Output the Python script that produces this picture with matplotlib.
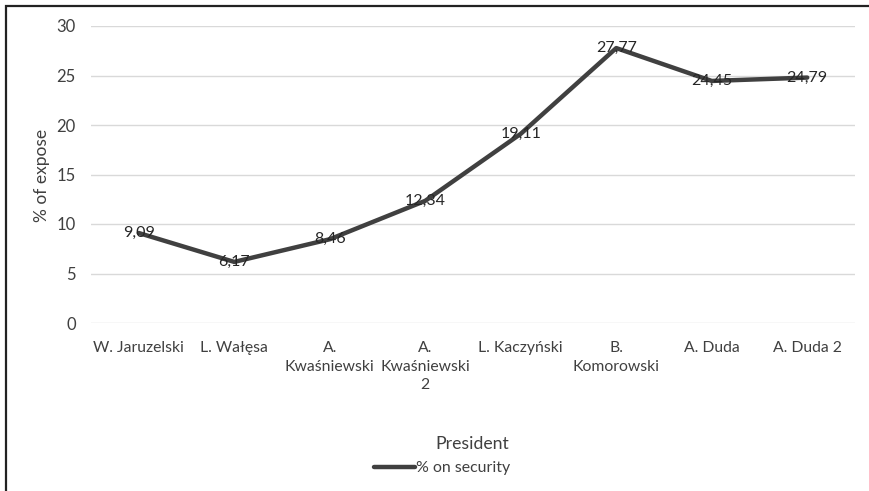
import matplotlib
matplotlib.use("Agg")
import matplotlib.pyplot as plt
from matplotlib.patches import Rectangle

presidents = ["W. Jaruzelski", "L. Wałęsa", "A.\nKwaśniewski", "A.\nKwaśniewski\n2",
              "L. Kaczyński", "B.\nKomorowski", "A. Duda", "A. Duda 2"]
security_share = [9.09, 6.17, 8.46, 12.34, 19.11, 27.77, 24.45, 24.79]
y_ticks = [0, 5, 10, 15, 20, 25, 30]

plt.rcParams['font.family'] = ['Lato', 'DejaVu Sans']
text_col = "#404040"

W, H = 869, 491
fig = plt.figure(figsize=(W / 100, H / 100), dpi=100)
ax = fig.add_axes([91 / W, 1 - 323 / H, (855 - 91) / W, (323 - 26) / H])

x = list(range(len(presidents)))
line, = ax.plot(x, security_share, color="#404040", lw=3.2, solid_capstyle="round",
                label="% on security", zorder=3)
for xi, v in zip(x, security_share):
    ax.text(xi, v, f"{v:.2f}".replace(".", ","), ha="center", va="center",
            fontsize=11.5, color="#262626", zorder=4)

ax.set_xlim(-0.5, len(presidents) - 0.5)
ax.set_ylim(0, 30)
ax.set_yticks(y_ticks)
ax.set_yticklabels([str(t) for t in y_ticks], fontsize=12)
ax.set_xticks(x)
ax.set_xticklabels(presidents, linespacing=1.42, fontsize=11.3)
ax.tick_params(axis="both", length=0, colors=text_col)
ax.tick_params(axis="y", pad=11)
ax.tick_params(axis="x", pad=13)
ax.grid(axis="y", color="#d9d9d9", lw=1)
ax.set_axisbelow(True)
for s in ax.spines.values():
    s.set_visible(False)

fig.text(42 / W, 1 - 175 / H, "% of expose", rotation=90, ha="center", va="center",
         fontsize=12.5, color=text_col)
fig.text(472 / W, 1 - 444 / H, "President", ha="center", va="center",
         fontsize=12.7, color=text_col)

fig.legend(handles=[line], loc="center", bbox_to_anchor=(442 / W, 1 - 468 / H), frameon=False,
           fontsize=11.4, labelcolor=text_col, handlelength=2.6, handletextpad=0.1)

# outer frame around the chart area
fig.patches.append(Rectangle((6 / W, -0.1), 1.2, 1 - 6 / H + 0.1, transform=fig.transFigure,
                             fill=False, edgecolor="#222222", lw=1.6))

fig.savefig("out.png", dpi=100)
